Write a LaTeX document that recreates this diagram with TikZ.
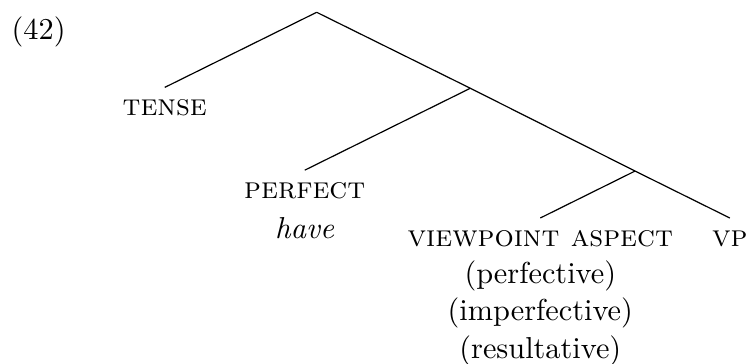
\documentclass[tikz,border=0pt]{standalone}
\usepackage{tikz}
\usetikzlibrary{positioning}

\newcommand{\stack}[1]{\begin{tabular}[t]{@{}c@{}}#1\end{tabular}}

\begin{document}
\begin{tikzpicture}[
  leaf/.style={anchor=north, inner sep=0pt, text height=9.33pt, font=\fontsize{10.1pt}{12.4pt}\selectfont},
  branch/.style={line width=0.4pt}
]
\useasboundingbox (0,0) rectangle (8.775,4.264);
\node[anchor=base west, inner sep=0pt, font=\fontsize{10.1pt}{12.4pt}\selectfont] (exnum) at (0.13,3.80) {(42)};
% branching points
\coordinate (root) at (3.71,4.12);
\coordinate (tp) at (5.51,3.23);
\coordinate (asp) at (7.44,2.26);
% leaves
\node[leaf] (tense) at (1.93,3.24) {\textsc{tense}};
\node[leaf] (perfect) at (3.57,2.27) {\stack{\textsc{perfect}\\[0.7pt]\textit{have}}};
\node[leaf] (aspect) at (6.33,1.71) {\stack{\textsc{viewpoint aspect}\\(perfective)\\(imperfective)\\(resultative)}};
\node[leaf] (vp) at (8.55,1.71) {\textsc{vp}};
\draw[branch] (root) -- (tense.north);
\draw[branch] (root) -- (tp);
\draw[branch] (tp) -- (perfect.north);
\draw[branch] (tp) -- (asp);
\draw[branch] (asp) -- (aspect.north);
\draw[branch] (asp) -- (vp.north);
\end{tikzpicture}
\end{document}
